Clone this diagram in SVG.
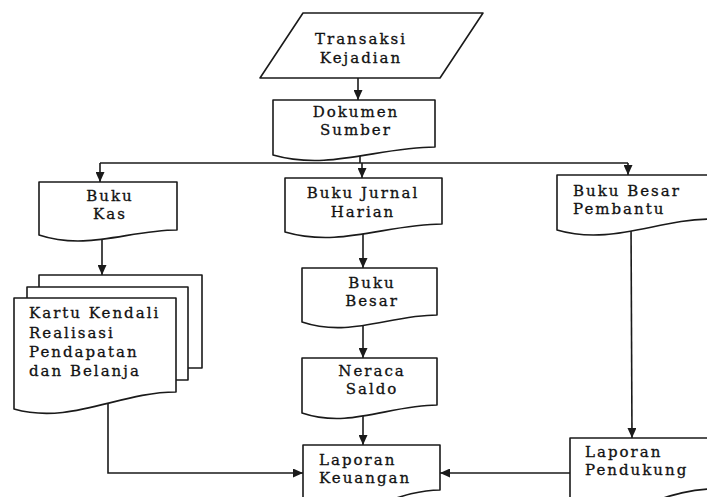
<svg xmlns="http://www.w3.org/2000/svg" width="707" height="497" viewBox="0 0 707 497">
<defs>
<marker id="arr" markerUnits="userSpaceOnUse" markerWidth="10" markerHeight="9" refX="10" refY="4.5" orient="auto">
<path d="M0,0 L10,4.5 L0,9 Z" fill="#1a1a1a"/>
</marker>
</defs>
<style>
.s{fill:#fff;stroke:#1a1a1a;stroke-width:1.6;stroke-linejoin:round}
.c{fill:none;stroke:#1a1a1a;stroke-width:1.6}
.a{marker-end:url(#arr)}
text{font-family:"DejaVu Serif","Liberation Serif",serif;font-size:15px;letter-spacing:2px;fill:#111;stroke:#111;stroke-width:0.3}
.m{text-anchor:middle}
</style>
<rect width="707" height="497" fill="#fff"/>
<g id="connectors">
<line class="c a" x1="358" y1="78" x2="358" y2="100"/>
<line class="c" x1="360" y1="150" x2="360" y2="163"/>
<line class="c" x1="100" y1="163" x2="628" y2="163"/>
<line class="c a" x1="100" y1="163" x2="100" y2="182"/>
<line class="c a" x1="362" y1="163" x2="362" y2="178"/>
<line class="c a" x1="628" y1="163" x2="628" y2="175"/>
<line class="c a" x1="102" y1="230" x2="102" y2="275"/>
<polyline class="c a" points="108,400 108,473 303,473"/>
<line class="c a" x1="363" y1="228" x2="363" y2="268"/>
<line class="c a" x1="363" y1="318" x2="363" y2="358"/>
<line class="c a" x1="363" y1="408" x2="363" y2="445"/>
<line class="c a" x1="631" y1="222" x2="632" y2="438"/>
<line class="c a" x1="570" y1="473" x2="440" y2="473"/>
</g>
<g id="transaksi">
<polygon class="s" points="303,13 483,13 440,78 260,78"/>
<text class="m" x="361" y="44">Transaksi</text>
<text class="m" x="361" y="63">Kejadian</text>
</g>
<g id="dokumen">
<path class="s" d="M273,100 H435 V147 C378.3,147 329.7,171 273,155 Z"/>
<text class="m" x="356" y="117">Dokumen</text>
<text class="m" x="356" y="135">Sumber</text>
</g>
<g id="bukukas">
<path class="s" d="M39,182 H177 V230 C128.7,230 87.3,251 39,235 Z"/>
<text class="m" x="110" y="201">Buku</text>
<text class="m" x="110" y="219">Kas</text>
</g>
<g id="bukujurnal">
<path class="s" d="M285,178 H442 V224 C387,224 340,248 285,232 Z"/>
<text class="m" x="363" y="198">Buku Jurnal</text>
<text class="m" x="363" y="217">Harian</text>
</g>
<g id="bukubesarpembantu">
<path class="s" d="M557,175 H712 V219 C658,219 611,246 557,230 Z"/>
<text x="573" y="196">Buku Besar</text>
<text x="573" y="214">Pembantu</text>
</g>
<g id="kartukendali">
<rect class="s" x="39" y="275" width="163" height="93"/>
<rect class="s" x="27" y="287" width="161" height="93"/>
<path class="s" d="M14,298 H176 V392 C119.3,392 70.7,425 14,409 Z"/>
<text x="29" y="318">Kartu Kendali</text>
<text x="29" y="338">Realisasi</text>
<text x="29" y="357">Pendapatan</text>
<text x="29" y="376">dan Belanja</text>
</g>
<g id="bukubesar">
<path class="s" d="M302,268 H437 V315 C389.7,315 349.3,338 302,322 Z"/>
<text class="m" x="372" y="288">Buku</text>
<text class="m" x="372" y="306">Besar</text>
</g>
<g id="neraca">
<path class="s" d="M302,358 H437 V405 C389.7,405 349.3,429 302,413 Z"/>
<text class="m" x="372" y="376">Neraca</text>
<text class="m" x="372" y="394">Saldo</text>
</g>
<g id="laporankeuangan">
<path class="s" d="M303,445 H440 V490 C392,490 351,526 303,510 Z"/>
<text x="319" y="465">Laporan</text>
<text x="319" y="483">Keuangan</text>
</g>
<g id="laporanpendukung">
<path class="s" d="M570,438 H712 V489 C662,489 620,525 570,509 Z"/>
<text x="585" y="457">Laporan</text>
<text x="585" y="475">Pendukung</text>
</g>
</svg>
